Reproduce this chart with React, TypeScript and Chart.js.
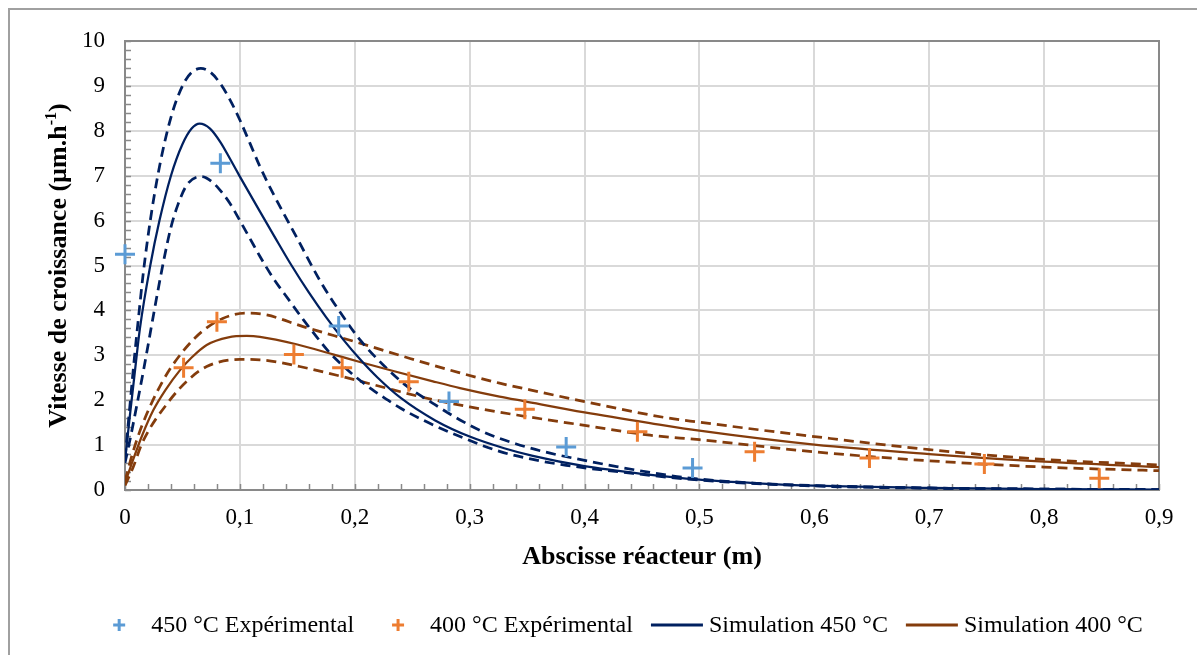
import React, { useEffect, useRef } from 'react';
import { Chart, registerables } from 'chart.js';

Chart.register(...registerables);

// ---------- data ----------
const X_TICKS = [0, 0.1, 0.2, 0.3, 0.4, 0.5, 0.6, 0.7, 0.8, 0.9];
const X_TICK_LABELS = ['0', '0,1', '0,2', '0,3', '0,4', '0,5', '0,6', '0,7', '0,8', '0,9'];
const Y_TICKS = [0, 1, 2, 3, 4, 5, 6, 7, 8, 9, 10];
const Y_TICK_LABELS = ['0', '1', '2', '3', '4', '5', '6', '7', '8', '9', '10'];

const exp450X = [0, 0.083, 0.186, 0.282, 0.384, 0.494];
const exp450Y = [5.25, 7.28, 3.65, 1.97, 0.96, 0.49];

const exp400X = [0.051, 0.08, 0.147, 0.189, 0.247, 0.348, 0.446, 0.548, 0.648, 0.748, 0.848];
const exp400Y = [2.72, 3.75, 3.02, 2.72, 2.41, 1.8, 1.3, 0.85, 0.71, 0.58, 0.26];

const sim450X = [0, 0.004, 0.008, 0.013, 0.022, 0.03, 0.04, 0.05, 0.058, 0.065, 0.074, 0.083, 0.092, 0.1, 0.1085, 0.1175, 0.13, 0.145, 0.16, 0.175, 0.19, 0.205, 0.22, 0.24, 0.27, 0.3, 0.33, 0.355, 0.4, 0.45, 0.5, 0.55, 0.6, 0.7, 0.8, 0.9];
const sim450Y = [0.65, 1.6, 2.5, 3.6, 5.0, 6.0, 7.0, 7.7, 8.05, 8.16, 8.05, 7.75, 7.35, 6.98, 6.6, 6.2, 5.65, 5.0, 4.4, 3.85, 3.35, 2.9, 2.5, 2.05, 1.55, 1.19, 0.93, 0.76, 0.53, 0.36, 0.23, 0.15, 0.095, 0.045, 0.02, 0.01];

const sim450HiX = [0, 0.004, 0.008, 0.012, 0.016, 0.022, 0.03, 0.04, 0.05, 0.058, 0.066, 0.0745, 0.0827, 0.0914, 0.1, 0.1088, 0.1175, 0.129, 0.15, 0.17, 0.187, 0.205, 0.225, 0.245, 0.268, 0.2916, 0.315, 0.34, 0.37, 0.4, 0.428, 0.46, 0.486, 0.55, 0.6, 0.7, 0.8, 0.9];
const sim450HiY = [0.7, 1.8, 2.9, 3.9, 4.85, 6.0, 7.2, 8.3, 9.0, 9.3, 9.39, 9.3, 9.06, 8.69, 8.24, 7.72, 7.2, 6.6, 5.6, 4.65, 3.97, 3.33, 2.78, 2.32, 1.93, 1.56, 1.26, 1.03, 0.82, 0.66, 0.52, 0.38, 0.28, 0.15, 0.1, 0.045, 0.02, 0.01];

const sim450LoX = [0, 0.005, 0.01, 0.016, 0.022, 0.028, 0.034, 0.04, 0.046, 0.054, 0.0667, 0.075, 0.0827, 0.0914, 0.1, 0.1088, 0.1175, 0.129, 0.1436, 0.155, 0.1668, 0.178, 0.19, 0.2017, 0.215, 0.2277, 0.24, 0.26, 0.2916, 0.326, 0.355, 0.384, 0.442, 0.5, 0.6, 0.7, 0.8, 0.9];
const sim450LoY = [0.6, 1.2, 1.85, 2.65, 3.5, 4.35, 5.15, 5.85, 6.35, 6.8, 6.98, 6.88, 6.68, 6.38, 6.0, 5.6, 5.2, 4.72, 4.2, 3.8, 3.41, 3.06, 2.76, 2.5, 2.24, 2.02, 1.82, 1.55, 1.19, 0.86, 0.68, 0.55, 0.37, 0.22, 0.09, 0.04, 0.02, 0.01];

const sim400X = [0, 0.007, 0.015, 0.0247, 0.035, 0.0479, 0.058, 0.0711, 0.09, 0.106, 0.1175, 0.15, 0.181, 0.2045, 0.2335, 0.268, 0.2916, 0.326, 0.347, 0.4, 0.457, 0.5, 0.6, 0.7, 0.8, 0.9];
const sim400Y = [0.15, 0.67, 1.22, 1.78, 2.22, 2.67, 2.95, 3.23, 3.4, 3.43, 3.41, 3.24, 3.02, 2.85, 2.65, 2.42, 2.27, 2.08, 1.98, 1.73, 1.49, 1.32, 1.01, 0.8, 0.63, 0.51];

const sim400HiX = [0, 0.007, 0.015, 0.0334, 0.0508, 0.068, 0.085, 0.105, 0.123, 0.155, 0.2045, 0.248, 0.29, 0.326, 0.3525, 0.4, 0.4685, 0.5, 0.6, 0.7, 0.8, 0.9];
const sim400HiY = [0.2, 0.85, 1.45, 2.45, 3.1, 3.55, 3.82, 3.94, 3.9, 3.64, 3.27, 2.93, 2.62, 2.38, 2.23, 1.97, 1.62, 1.51, 1.19, 0.9, 0.68, 0.56];

const sim400LoX = [0, 0.007, 0.015, 0.039, 0.055, 0.0711, 0.1, 0.1175, 0.152, 0.19, 0.2335, 0.26, 0.3, 0.341, 0.405, 0.457, 0.5, 0.6, 0.7, 0.8, 0.9];
const sim400LoY = [0.1, 0.5, 1.05, 2.0, 2.45, 2.75, 2.91, 2.9, 2.75, 2.52, 2.23, 2.06, 1.85, 1.67, 1.42, 1.22, 1.12, 0.85, 0.65, 0.51, 0.43];

const X_TITLE = 'Abscisse réacteur (m)';
const Y_TITLE_MAIN = 'Vitesse de croissance (µm.h';
const Y_TITLE_SUP = '-1';
const Y_TITLE_END = ')';

// ---------- styles ----------
const FONT = "'Liberation Serif', 'Times New Roman', serif";
const C_EXP450 = '#5B9BD5';
const C_EXP400 = '#ED7D31';
const C_SIM450 = '#002060';
const C_SIM400 = '#843C0C';
const AXIS = '#898989';
const GRID = '#d9d9d9';

const pts = (xs: number[], ys: number[]) => xs.map((x, i) => ({ x, y: ys[i] }));

const decorPlugin = {
  id: 'decor',
  beforeDatasetsDraw(chart: any) {
    const { ctx, chartArea: a, scales } = chart;
    const x = scales.x;
    const y = scales.y;
    ctx.save();
    ctx.strokeStyle = AXIS;
    ctx.lineWidth = 1.5;
    for (let i = 0; i <= 45; i++) {
      const px = Math.round(x.getPixelForValue(i * 0.02)) + 0.5;
      ctx.beginPath();
      ctx.moveTo(px, a.bottom);
      ctx.lineTo(px, a.bottom - 6);
      ctx.stroke();
    }
    for (let i = 0; i <= 50; i++) {
      const py = Math.round(y.getPixelForValue(i * 0.2)) + 0.5;
      ctx.beginPath();
      ctx.moveTo(a.left, py);
      ctx.lineTo(a.left + 6, py);
      ctx.stroke();
    }
    ctx.lineWidth = 2;
    ctx.strokeRect(a.left, a.top, a.right - a.left, a.bottom - a.top);
    ctx.restore();
  },
  afterDraw(chart: any) {
    const { ctx, chartArea: a } = chart;
    ctx.save();
    ctx.fillStyle = '#000';
    // x title
    ctx.font = `bold 26px ${FONT}`;
    ctx.textAlign = 'center';
    ctx.textBaseline = 'middle';
    ctx.fillText(X_TITLE, (a.left + a.right) / 2, 557);
    // y title with superscript
    ctx.save();
    ctx.translate(59, (a.top + a.bottom) / 2);
    ctx.rotate(-Math.PI / 2);
    ctx.textAlign = 'left';
    ctx.font = `bold 26px ${FONT}`;
    const wMain = ctx.measureText(Y_TITLE_MAIN).width;
    const wEnd = ctx.measureText(Y_TITLE_END).width;
    ctx.font = `bold 16px ${FONT}`;
    const wSup = ctx.measureText(Y_TITLE_SUP).width;
    const start = -(wMain + wSup + wEnd) / 2;
    ctx.font = `bold 26px ${FONT}`;
    ctx.fillText(Y_TITLE_MAIN, start, 0);
    ctx.font = `bold 16px ${FONT}`;
    ctx.fillText(Y_TITLE_SUP, start + wMain, -7);
    ctx.font = `bold 26px ${FONT}`;
    ctx.fillText(Y_TITLE_END, start + wMain + wSup, 0);
    ctx.restore();

    // legend
    const items = chart.data.datasets.filter((d: any) => d.inLegend);
    ctx.font = `24px ${FONT}`;
    ctx.textAlign = 'left';
    ctx.textBaseline = 'middle';
    const box = 52;
    const gap = 6;
    const spacing = 18;
    const ly = 625;
    let total = 0;
    items.forEach((d: any, i: number) => {
      total += box + gap + ctx.measureText(d.label).width + (i > 0 ? spacing : 0);
    });
    let lx = 618 - total / 2;
    items.forEach((d: any) => {
      const cx = lx + box / 2;
      if (d.legendKind === 'cross') {
        ctx.strokeStyle = d.borderColor;
        ctx.lineWidth = 3;
        ctx.beginPath();
        ctx.moveTo(cx - 6, ly);
        ctx.lineTo(cx + 6, ly);
        ctx.moveTo(cx, ly - 6);
        ctx.lineTo(cx, ly + 6);
        ctx.stroke();
      } else {
        ctx.strokeStyle = d.borderColor;
        ctx.lineWidth = 3;
        ctx.beginPath();
        ctx.moveTo(lx, ly);
        ctx.lineTo(lx + box, ly);
        ctx.stroke();
      }
      ctx.fillStyle = '#000';
      ctx.fillText(d.label, lx + box + gap, ly + 1);
      lx += box + gap + ctx.measureText(d.label).width + spacing;
    });
    ctx.restore();
  },
};

const lineDs = (label: string, xs: number[], ys: number[], color: string, dashed: boolean, inLegend: boolean) => ({
  label,
  data: pts(xs, ys),
  showLine: true,
  borderColor: color,
  backgroundColor: color,
  borderWidth: dashed ? 2.75 : 2.25,
  borderDash: dashed ? [10, 6] : [],
  pointRadius: 0,
  cubicInterpolationMode: 'monotone',
  fill: false,
  order: 1,
  inLegend,
  legendKind: 'line',
});

const crossDs = (label: string, xs: number[], ys: number[], color: string) => ({
  label,
  data: pts(xs, ys),
  showLine: false,
  borderColor: color,
  backgroundColor: color,
  pointStyle: 'cross',
  pointRadius: 10,
  pointBorderWidth: 3,
  clip: false,
  order: 0,
  inLegend: true,
  legendKind: 'cross',
});

export default function App() {
  const ref = useRef<HTMLCanvasElement>(null);
  useEffect(() => {
    if (!ref.current) return;
    const chart = new Chart(ref.current, {
      type: 'scatter',
      data: {
        datasets: [
          crossDs('450 °C Expérimental', exp450X, exp450Y, C_EXP450),
          crossDs('400 °C Expérimental', exp400X, exp400Y, C_EXP400),
          lineDs('Simulation 450 °C', sim450X, sim450Y, C_SIM450, false, true),
          lineDs('Simulation 400 °C', sim400X, sim400Y, C_SIM400, false, true),
          lineDs('Simulation 450 °C (max)', sim450HiX, sim450HiY, C_SIM450, true, false),
          lineDs('Simulation 450 °C (min)', sim450LoX, sim450LoY, C_SIM450, true, false),
          lineDs('Simulation 400 °C (max)', sim400HiX, sim400HiY, C_SIM400, true, false),
          lineDs('Simulation 400 °C (min)', sim400LoX, sim400LoY, C_SIM400, true, false),
        ] as any,
      },
      options: {
        animation: false,
        responsive: false,
        devicePixelRatio: 1,
        layout: { padding: { left: 0, right: 38, top: 41, bottom: 0 } },
        plugins: {
          legend: { display: false },
          tooltip: { enabled: false },
        },
        scales: {
          x: {
            type: 'linear',
            min: 0,
            max: 0.9,
            afterFit: (s: any) => {
              s.height = 165;
            },
            afterBuildTicks: (s: any) => {
              s.ticks = X_TICKS.map((v) => ({ value: v }));
            },
            ticks: {
              autoSkip: false,
              maxRotation: 0,
              minRotation: 0,
              padding: 14,
              color: '#000',
              font: { family: FONT, size: 23 },
              callback: (_v: any, i: number) => X_TICK_LABELS[i],
            },
            grid: { color: GRID, lineWidth: 2, drawTicks: false },
            border: { color: AXIS, width: 2 },
          },
          y: {
            type: 'linear',
            min: 0,
            max: 10,
            afterFit: (s: any) => {
              s.width = 125;
            },
            afterBuildTicks: (s: any) => {
              s.ticks = Y_TICKS.map((v) => ({ value: v }));
            },
            ticks: {
              autoSkip: false,
              padding: 20,
              color: '#000',
              font: { family: FONT, size: 23 },
              callback: (_v: any, i: number) => Y_TICK_LABELS[i],
            },
            grid: { color: GRID, lineWidth: 2, drawTicks: false },
            border: { color: AXIS, width: 2 },
          },
        },
      } as any,
      plugins: [decorPlugin],
    });
    return () => chart.destroy();
  }, []);

  return (
    <div
      style={{
        position: 'fixed',
        left: 0,
        top: 0,
        width: 1197,
        height: 655,
        background: '#fff',
        overflow: 'hidden',
      }}
    >
      <div
        style={{
          position: 'absolute',
          left: 8,
          top: 8,
          width: 1400,
          height: 900,
          border: '2px solid #a0a0a0',
          boxSizing: 'border-box',
        }}
      />
      <canvas
        ref={ref}
        width={1197}
        height={655}
        style={{ position: 'absolute', left: 0, top: 0, width: 1197, height: 655 }}
      />
    </div>
  );
}
